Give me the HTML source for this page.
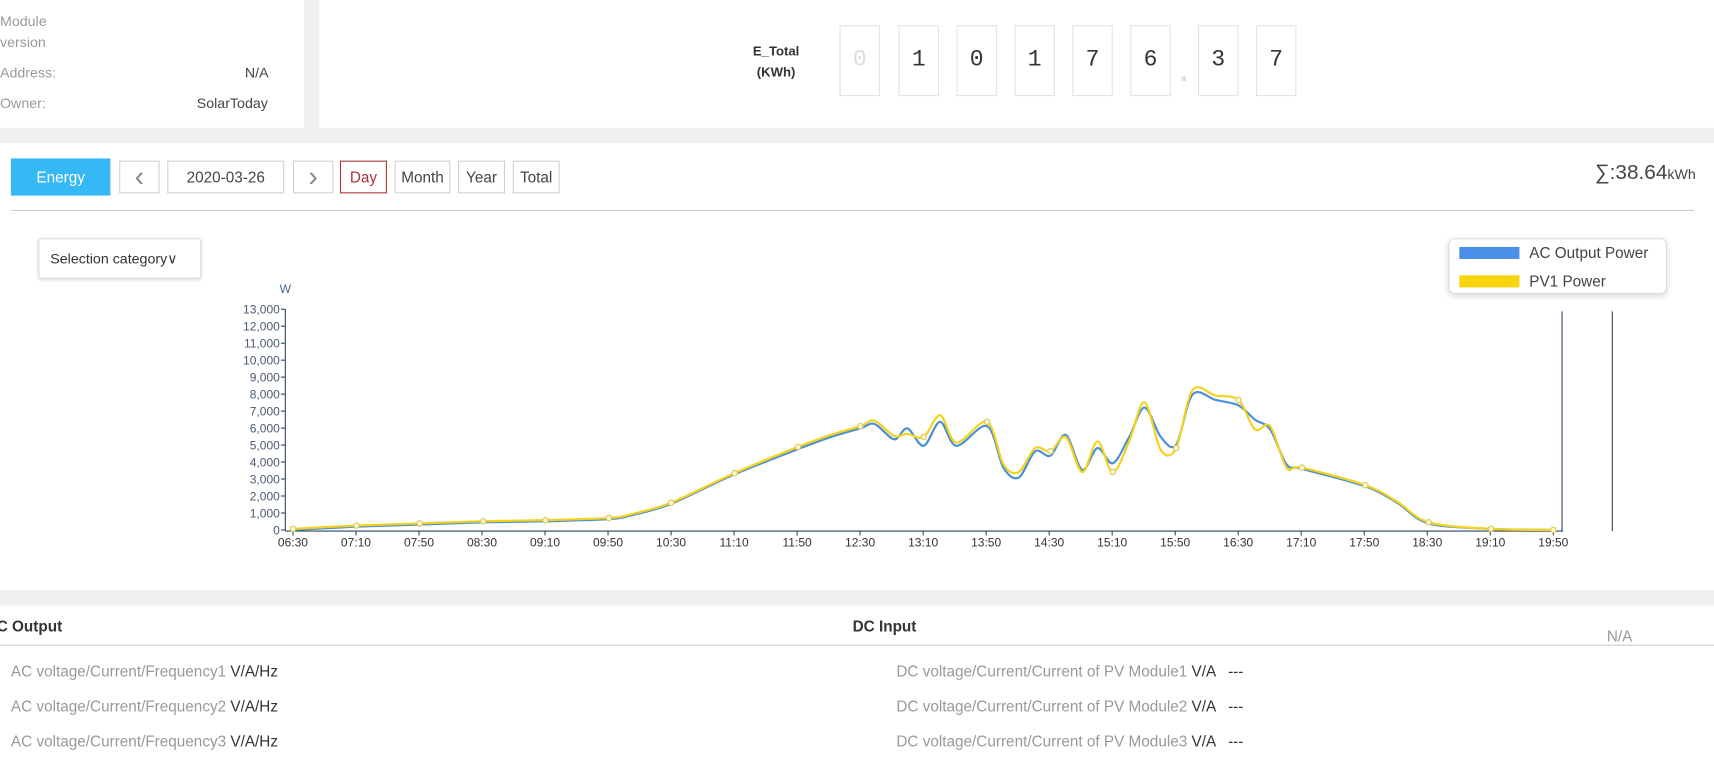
<!DOCTYPE html>
<html><head><meta charset="utf-8">
<style>
html,body{margin:0;padding:0;width:1714px;height:766px;overflow:hidden;background:#fff;}
#w{position:absolute;left:0;top:0;width:1568px;height:701px;transform:scale(1.09311,1.09272);transform-origin:0 0;font-family:"Liberation Sans",sans-serif;color:#333;font-size:13px;}
.a{position:absolute;white-space:nowrap;}
.g{color:#999;}
.btn{position:absolute;top:147px;height:30px;border:1px solid #d0d0d0;box-sizing:border-box;text-align:center;line-height:28px;font-size:14px;color:#444;background:#fff;}
.dg{position:absolute;top:23px;width:37px;height:65px;border:1px solid #e2e2e2;box-sizing:border-box;text-align:center;line-height:63px;font-family:"Liberation Mono",monospace;font-size:21px;color:#333;}
</style></head><body><div id="w">
<div class="a" style="left:0;top:117px;width:1568px;height:14px;background:#efefef"></div>
<div class="a" style="left:278px;top:0;width:14px;height:117px;background:#efefef"></div>
<div class="a" style="left:0;top:540px;width:1568px;height:14px;background:#efefef"></div>
<div class="a g" style="left:0;top:12px">Module</div>
<div class="a g" style="left:0;top:31px">version</div>
<div class="a g" style="left:0;top:59px">Address:</div>
<div class="a" style="left:224px;top:59px;color:#444">N/A</div>
<div class="a g" style="left:0;top:87px">Owner:</div>
<div class="a" style="left:180px;top:87px;color:#444">SolarToday</div>
<div class="a" style="left:680px;top:38px;width:60px;text-align:center;font-weight:bold;font-size:12px;line-height:19px">E_Total<br>(KWh)</div>
<div class="dg" style="left:768px;color:#ddd">0</div>
<div class="dg" style="left:822px">1</div>
<div class="dg" style="left:875px">0</div>
<div class="dg" style="left:928px">1</div>
<div class="dg" style="left:981px">7</div>
<div class="dg" style="left:1034px">6</div>
<div class="a" style="left:1081px;top:70px;width:4px;height:4px;background:#ddd"></div>
<div class="dg" style="left:1096px">3</div>
<div class="dg" style="left:1149px">7</div>

<div class="a" style="left:10px;top:145px;width:91px;height:34px;background:#35b8f4;color:#fff;text-align:center;line-height:34px;font-size:14px">Energy</div>
<div class="btn" style="left:109px;width:37px;font-size:26px;color:#888;line-height:26px">&#x2039;</div>
<div class="btn" style="left:153px;width:107px">2020-03-26</div>
<div class="btn" style="left:268px;width:37px;font-size:26px;color:#888;line-height:26px">&#x203A;</div>
<div class="btn" style="left:311px;width:43px;border-color:#a33;color:#a33">Day</div>
<div class="btn" style="left:361px;width:51px">Month</div>
<div class="btn" style="left:419px;width:43px">Year</div>
<div class="btn" style="left:469px;width:43px">Total</div>
<div class="a" style="left:1459px;top:148px;font-size:19px;color:#444">&#8721;:38.64<span style="font-size:13px">kWh</span></div>
<div class="a" style="left:10px;top:192px;width:1540px;height:1px;background:#ccc"></div>
<div class="a" style="left:35px;top:218px;width:149px;height:37px;border:1px solid #ddd;border-radius:3px;box-sizing:border-box;box-shadow:0 1px 3px rgba(0,0,0,.15);line-height:35px;padding-left:10px;font-size:13px">Selection category&#x2228;</div>

<svg class="a" style="left:0;top:0" width="1568" height="701">
<g font-family="Liberation Sans" font-size="11" fill="#4a5a70" text-anchor="end" id="yl"></g>
<g font-family="Liberation Sans" font-size="11" fill="#333" text-anchor="middle" id="xl"></g>
<text x="261" y="268" font-family="Liberation Sans" font-size="11" fill="#4a6a90" text-anchor="middle">W</text>
<line x1="261" y1="283" x2="261" y2="486" stroke="#2d4660"/>
<line x1="261" y1="486" x2="1430" y2="486" stroke="#2d4660"/>
<line x1="1429" y1="285" x2="1429" y2="486" stroke="#2d4660"/>
<line x1="1475" y1="285" x2="1475" y2="486" stroke="#2d4660"/>
<text x="1428" y="268" font-family="Liberation Sans" font-size="10" fill="#a8b8cc" text-anchor="middle">V</text>
<text x="1474" y="268" font-family="Liberation Sans" font-size="10" fill="#a8b8cc" text-anchor="middle">A</text>
<g id="tk" stroke="#2d4660"></g>
<path id="pb" fill="none" stroke="#4a90d9" stroke-width="2"/>
<path id="py" fill="none" stroke="#f5d21a" stroke-width="2"/>
<g id="mk" fill="#fff8c8" stroke="#d8c860" stroke-width="1"></g>
</svg>
<div class="a" style="left:1325px;top:218px;width:200px;height:51px;border:1px solid #ddd;border-radius:6px;box-sizing:border-box;box-shadow:0 2px 6px rgba(0,0,0,.15);background:#fff"></div>
<div class="a" style="left:1335px;top:226px;width:55px;height:11px;background:#4a90e8"></div>
<div class="a" style="left:1335px;top:252px;width:55px;height:11px;background:#f8d40a"></div>
<div class="a" style="left:1399px;top:223px;font-size:14px;color:#444">AC Output Power</div>
<div class="a" style="left:1399px;top:249px;font-size:14px;color:#444">PV1 Power</div>

<div class="a" style="left:-3px;top:565px;font-weight:bold;font-size:14px">C Output</div>
<div class="a" style="left:780px;top:565px;font-weight:bold;font-size:14px">DC Input</div>
<div class="a g" style="left:1470px;top:574px;font-size:14px">N/A</div>
<div class="a" style="left:0;top:590px;width:1568px;height:1px;background:#ccc"></div>
<div class="a" style="left:10px;top:606px;font-size:14px"><span class="g">AC voltage/Current/Frequency1</span> V/A/Hz</div>
<div class="a" style="left:10px;top:638px;font-size:14px"><span class="g">AC voltage/Current/Frequency2</span> V/A/Hz</div>
<div class="a" style="left:10px;top:670px;font-size:14px"><span class="g">AC voltage/Current/Frequency3</span> V/A/Hz</div>
<div class="a" style="left:820px;top:606px;font-size:14px"><span class="g">DC voltage/Current/Current of PV Module1</span> V/A &nbsp; ---</div>
<div class="a" style="left:820px;top:638px;font-size:14px"><span class="g">DC voltage/Current/Current of PV Module2</span> V/A &nbsp; ---</div>
<div class="a" style="left:820px;top:670px;font-size:14px"><span class="g">DC voltage/Current/Current of PV Module3</span> V/A &nbsp; ---</div>
</div>
<script>
var NS="http://www.w3.org/2000/svg";
function el(p,t,a,txt){var e=document.createElementNS(NS,t);for(var k in a)e.setAttribute(k,a[k]);if(txt!=null)e.textContent=txt;document.getElementById(p).appendChild(e);}
for(var i=0;i<=13;i++){var y=485-i*15.54;el("yl","text",{x:256,y:y+4},i==0?"0":(i+",000"));el("tk","line",{x1:257,y1:y,x2:261,y2:y});}
var labs=["06:30","07:10","07:50","08:30","09:10","09:50","10:30","11:10","11:50","12:30","13:10","13:50","14:30","15:10","15:50","16:30","17:10","17:50","18:30","19:10","19:50"];
for(var i=0;i<labs.length;i++){var x=268+i*57.65;el("xl","text",{x:x,y:500},labs[i]);el("tk","line",{x1:x,y1:486,x2:x,y2:490});}
var B=[[268,485],[326,482],[384,480],[442,478],[499,477],[557,475],[580,471],[614,461],[672,434],[730,411],[760,400],[787,392],[800,388],[818,402],[830,392],[845,408],[860,386],[875,408],[903,390],[918,428],[932,437],[947,413],[961,417],[975,398],[990,430],[1004,410],[1018,424],[1033,400],[1047,373],[1062,400],[1076,407],[1091,361],[1112,366],[1133,371],[1148,384],[1162,393],[1177,425],[1191,429],[1249,445],[1278,460],[1307,479],[1364,484],[1421,485]];
var Y=[[268,484],[326,481],[384,479],[442,477],[499,476],[557,474],[580,470],[614,460],[672,433],[730,409],[760,398],[787,390],[800,385],[818,399],[830,397],[845,400],[860,380],[875,405],[903,386],[918,425],[932,432],[947,410],[961,413],[975,400],[990,432],[1004,404],[1018,432],[1033,404],[1047,368],[1062,412],[1076,410],[1091,357],[1112,362],[1133,366],[1148,393],[1162,390],[1177,428],[1191,428],[1249,444],[1278,459],[1307,478],[1364,484],[1421,485]];
function cr(P){var d="M"+P[0][0]+","+P[0][1];for(var i=0;i<P.length-1;i++){var p0=P[i-1]||P[i],p1=P[i],p2=P[i+1],p3=P[i+2]||p2;var t=0.16;d+=" C"+(p1[0]+(p2[0]-p0[0])*t)+","+(p1[1]+(p2[1]-p0[1])*t)+" "+(p2[0]-(p3[0]-p1[0])*t)+","+(p2[1]-(p3[1]-p1[1])*t)+" "+p2[0]+","+p2[1];}return d;}
document.getElementById("pb").setAttribute("d",cr(B));
document.getElementById("py").setAttribute("d",cr(Y));
[268,326,384,442,499,557,614,672,730,787,845,903,961,1018,1076,1133,1191,1249,1307,1364,1421].forEach(function(x){for(var i=0;i<Y.length;i++)if(Y[i][0]==x)el("mk","circle",{cx:x,cy:Y[i][1],r:2.5});});
</script>
</body></html>
